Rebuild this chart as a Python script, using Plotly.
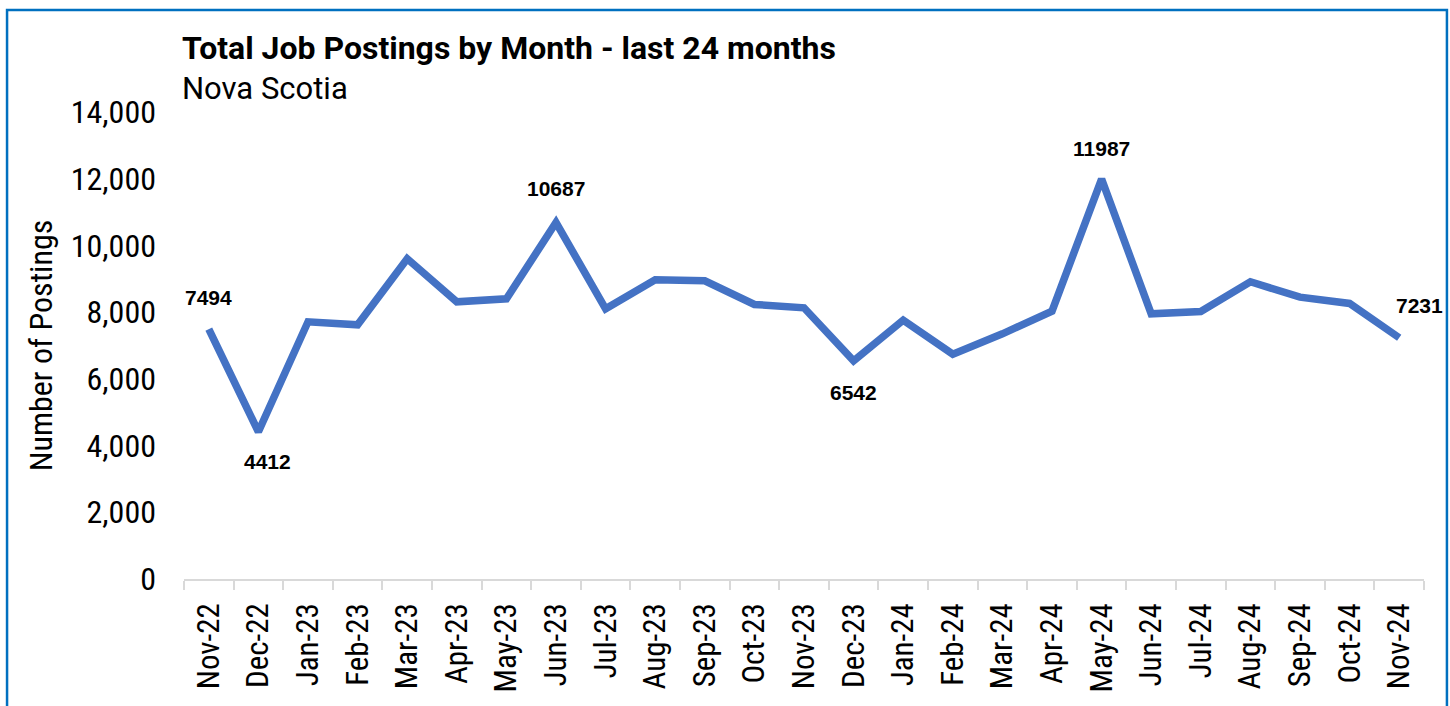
import plotly.graph_objects as go

months = ["Nov-22", "Dec-22", "Jan-23", "Feb-23", "Mar-23", "Apr-23", "May-23", "Jun-23",
          "Jul-23", "Aug-23", "Sep-23", "Oct-23", "Nov-23", "Dec-23", "Jan-24", "Feb-24",
          "Mar-24", "Apr-24", "May-24", "Jun-24", "Jul-24", "Aug-24", "Sep-24", "Oct-24", "Nov-24"]
postings = [7494, 4412, 7710, 7620, 9600, 8310, 8400, 10687,
            8100, 8970, 8940, 8230, 8130, 6542, 7760, 6740,
            7350, 8030, 11987, 7950, 8020, 8910, 8450, 8260, 7231]
y_ticks = [0, 2000, 4000, 6000, 8000, 10000, 12000, 14000]

# labelled points: index -> (vertical shift, horizontal shift)
label_pos = {0: (32, 0), 1: (-30, 9), 7: (34, 0), 13: (-32, 0), 18: (31, 0), 24: (32, 20)}

cond = "Roboto Condensed, Liberation Sans Narrow, DejaVu Sans Condensed, Roboto, sans-serif"

fig = go.Figure()
fig.add_trace(go.Scatter(
    x=months, y=postings, mode="lines",
    line=dict(color="#4472C4", width=7.5, shape="linear"),
    hoverinfo="x+y", showlegend=False,
))

for i, (ys, xs) in label_pos.items():
    fig.add_annotation(
        x=months[i], y=postings[i], text=f"<b>{postings[i]}</b>",
        showarrow=False, yshift=ys, xshift=xs,
        font=dict(family="Liberation Sans, Arial, sans-serif", size=21, color="#000000"),
    )

fig.add_annotation(
    xref="paper", yref="paper", x=-0.0032, y=1.137, xanchor="left", yanchor="middle",
    text="<b>Total Job Postings by Month - last 24 months</b>", showarrow=False,
    font=dict(family="Roboto, sans-serif", size=32, color="#000000"),
)
fig.add_annotation(
    xref="paper", yref="paper", x=-0.0032, y=1.051, xanchor="left", yanchor="middle",
    text="Nova Scotia", showarrow=False,
    font=dict(family="Roboto, sans-serif", size=31, color="#000000"),
)

fig.add_shape(
    type="rect", xref="paper", yref="paper",
    x0=-0.1427, x1=1.0185, y0=-0.35, y1=1.2184, line=dict(color="#0070C0", width=2.5),
    fillcolor="rgba(0,0,0,0)", layer="above",
)

fig.update_layout(
    width=1450, height=706,
    margin=dict(l=184, r=26, t=112, b=127),
    paper_bgcolor="white", plot_bgcolor="white",
    font=dict(family=cond, color="#000000"),
    xaxis=dict(
        type="category", range=[-0.5, 24.5], tickangle=-90,
        showline=True, linecolor="#D9D9D9", linewidth=1.5,
        ticks="outside", tickson="boundaries", ticklen=9, tickcolor="#D9D9D9", tickwidth=1.5,
        tickfont=dict(size=31, family=cond), ticklabelstandoff=10,
        showgrid=False, zeroline=False,
    ),
    yaxis=dict(
        range=[0, 14000], tickvals=y_ticks, tickformat=",d",
        tickfont=dict(size=32, family=cond), ticklabelstandoff=27,
        showgrid=False, zeroline=False, showline=False,
        title=dict(text="Number of Postings", font=dict(size=32, family=cond), standoff=8),
    ),
)

fig.write_html(
    "out.html",
    config={"displayModeBar": False},
    post_script="document.body.style.margin='0';document.body.style.overflow='hidden';",
)
